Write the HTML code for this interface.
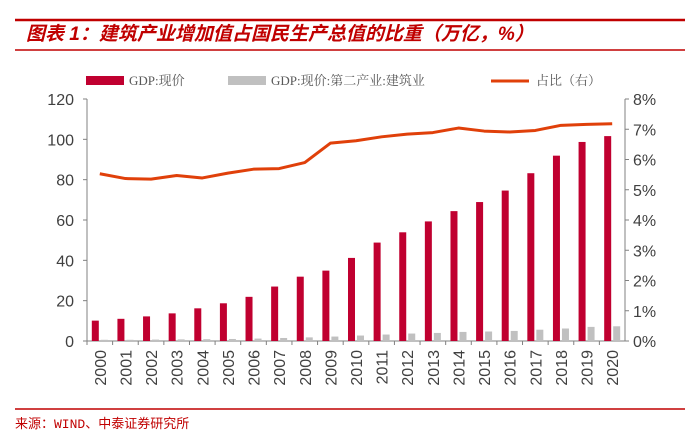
<!DOCTYPE html>
<html><head><meta charset="utf-8"><style>
body{margin:0;background:#fff;width:700px;height:442px;overflow:hidden;font-family:"Liberation Sans","Noto Sans CJK SC",sans-serif}
</style></head><body>
<svg width="700" height="442" xmlns="http://www.w3.org/2000/svg">
<line x1="15" y1="20" x2="685" y2="20" stroke="#c00000" stroke-width="2.5"/>
<text x="26" y="40" font-size="19" font-weight="bold" font-style="italic" fill="#c00000" font-family="'Liberation Sans','Noto Sans CJK SC',sans-serif">图表 1：建筑产业增加值占国民生产总值的比重（万亿，%）</text>
<line x1="15" y1="50" x2="685" y2="50" stroke="#c00000" stroke-width="1.5"/>
<g font-size="13" fill="#595959" font-family="'Liberation Serif','Noto Serif CJK SC',serif">
<rect x="86" y="76" width="38" height="9" fill="#c00030"/>
<text x="129" y="85">GDP:现价</text>
<rect x="228" y="76" width="38" height="9" fill="#c0c0c0"/>
<text x="271" y="85">GDP:现价:第二产业:建筑业</text>
<line x1="491" y1="81" x2="529" y2="81" stroke="#e0400a" stroke-width="3"/>
<text x="536" y="85">占比（右）</text>
</g>
<g id="axes"></g>
<g id="marks"></g>
<line x1="15" y1="409" x2="685" y2="409" stroke="#c00000" stroke-width="1.5"/>
<text x="15" y="428" font-size="13" fill="#c00000" font-family="'Liberation Mono','Noto Sans CJK SC',monospace">来源：WIND、中泰证券研究所</text>
</svg>
<script>
const years=["2000","2001","2002","2003","2004","2005","2006","2007","2008","2009","2010","2011","2012","2013","2014","2015","2016","2017","2018","2019","2020"];
const gdp=[10.1,11.0,12.2,13.7,16.2,18.7,21.9,27.0,31.9,34.9,41.2,48.8,53.9,59.3,64.4,68.9,74.6,83.2,91.9,98.7,101.6];
const construction=[0.6,0.6,0.7,0.8,0.9,1.0,1.2,1.5,1.8,2.2,2.7,3.2,3.7,4.0,4.5,4.7,5.0,5.6,6.2,7.0,7.3];
const share=[5.53,5.37,5.35,5.47,5.39,5.55,5.68,5.70,5.90,6.54,6.62,6.75,6.84,6.89,7.04,6.94,6.91,6.96,7.13,7.16,7.18];
const leftTicks=[0,20,40,60,80,100,120];
const rightTicks=[0,1,2,3,4,5,6,7,8];
const X0=87,X1=625,Y0=341,Y1=99;
const step=(X1-X0)/years.length;
const yL=v=>Y0-(v/120)*(Y0-Y1);
const yR=v=>Y0-(v/8)*(Y0-Y1);
const xc=i=>X0+step*(i+0.5);
const NS="http://www.w3.org/2000/svg";
function mk(tag,attrs,parent){const e=document.createElementNS(NS,tag);for(const k in attrs)e.setAttribute(k,attrs[k]);parent.appendChild(e);return e;}
const ax=document.getElementById('axes'),mg=document.getElementById('marks');
let e;
e=mk('line',{x1:X0,y1:Y1,x2:X0,y2:Y0,stroke:'#808080'},ax);


e=mk('line',{x1:X1,y1:Y1,x2:X1,y2:Y0,stroke:'#808080'},ax);


e=mk('line',{x1:X0,y1:Y0,x2:X1,y2:Y0,stroke:'#808080'},ax);


leftTicks.forEach(v=>{
 mk('line',{x1:X0-4,y1:yL(v),x2:X0,y2:yL(v),stroke:'#808080'},ax);
 e=mk('text',{x:X0-13,y:yL(v)+6,'text-anchor':'end','font-size':'16',fill:'#404040'},ax);
 e.textContent=v;
 
 
});
rightTicks.forEach(v=>{
 mk('line',{x1:X1,y1:yR(v),x2:X1+4,y2:yR(v),stroke:'#808080'},ax);
 e=mk('text',{x:X1+8,y:yR(v)+6,'font-size':'16',fill:'#404040'},ax);
 e.textContent=v+'%';
 
 
});
years.forEach((y,i)=>{
 mk('line',{x1:X0+step*i,y1:Y0,x2:X0+step*i,y2:Y0+4,stroke:'#808080'},ax);
 const x=xc(i)+6;
 e=mk('text',{x:x,y:Y0+9,'font-size':'16',fill:'#404040','text-anchor':'end',transform:`rotate(-90 ${x} ${Y0+9})`},ax);
 e.textContent=y;
 
 
 e=mk('rect',{x:xc(i)-8,y:yL(gdp[i]),width:7,height:Y0-yL(gdp[i]),fill:'#c00030'},mg);
 
 
 e=mk('rect',{x:xc(i)+1,y:yL(construction[i]),width:7,height:Y0-yL(construction[i]),fill:'#c0c0c0'},mg);
 
 
});
e=mk('polyline',{points:share.map((v,i)=>xc(i)+','+yR(v)).join(' '),fill:'none',stroke:'#e0400a','stroke-width':3,'stroke-linejoin':'round'},mg);


</script>
</body></html>
